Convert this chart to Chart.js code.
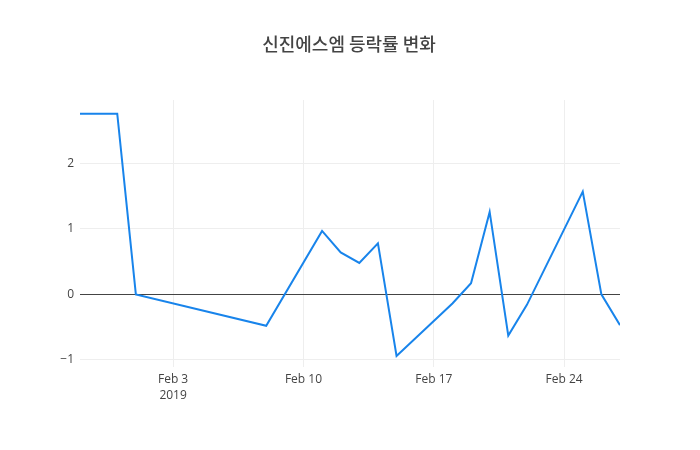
<!DOCTYPE html>
<html><head><meta charset="utf-8">
<script src="https://cdn.jsdelivr.net/npm/chart.js@4"></script>
<style>html,body{margin:0;padding:0;background:#fff}#wrap{width:700px;height:450px}</style>
</head><body><div id="wrap"><canvas id="c" width="700" height="450"></canvas></div>
<script>
const title = "신진에스엠 등락률 변화";
const dates = ["2019-01-29","2019-01-31","2019-02-01","2019-02-08","2019-02-11","2019-02-12","2019-02-13","2019-02-14","2019-02-15","2019-02-18","2019-02-19","2019-02-20","2019-02-21","2019-02-22","2019-02-25","2019-02-26","2019-02-27"];
const values = [2.76,2.76,0,-0.48,0.97,0.64,0.48,0.78,-0.94,-0.14,0.17,1.26,-0.63,-0.16,1.57,0,-0.47];
const tickDates = ["2019-02-03","2019-02-10","2019-02-17","2019-02-24"];
const tickLabels = [["Feb 3","2019"],["Feb 10"],["Feb 17"],["Feb 24"]];
const yTicks = [-1,0,1,2];

const DAY = 86400000;
const t0 = Date.parse(dates[0]);
const toDay = d => (Date.parse(d) - t0) / DAY;
const pts = dates.map((d,i)=>({x:toDay(d), y:values[i]}));
const tickPos = tickDates.map(toDay);

const titlePlugin = {
  id:'ttl',
  afterDraw(chart){
    const ctx = chart.ctx;
    ctx.save();
    ctx.font = '500 18px "Noto Sans CJK KR", "Open Sans", sans-serif';
    ctx.fillStyle = '#444';
    ctx.textAlign = 'center';
    ctx.textBaseline = 'middle';
    ctx.fillText(title, 349, 44);
    ctx.restore();
  }
};

new Chart(document.getElementById('c'), {
  type:'line',
  data:{datasets:[{data:pts, borderColor:'rgb(24,132,235)', borderWidth:2, pointRadius:0, tension:0, fill:false}]},
  options:{
    responsive:false, animation:false,
    layout:{padding:{top:100,right:80,left:0,bottom:0}},
    plugins:{legend:{display:false}, tooltip:{enabled:false}},
    scales:{
      x:{type:'linear', min:0, max:toDay("2019-02-27"),
        afterBuildTicks(s){ s.ticks = tickPos.map(v=>({value:v})); },
        afterFit(s){ s.height = 83; },
        ticks:{ autoSkip:false, maxRotation:0, padding:4, color:'#444',
          font:{family:'"Open Sans", sans-serif', size:12, lineHeight:1.35},
          callback(v){ const i = tickPos.indexOf(v); return i>=0 ? tickLabels[i] : ''; } },
        grid:{color:'#eee', drawTicks:false, lineWidth:1},
        border:{display:false}
      },
      y:{min:-1.11, max:2.97,
        afterBuildTicks(s){ s.ticks = yTicks.map(v=>({value:v})); },
        afterFit(s){ s.width = 80; },
        ticks:{ padding:6, color:'#444', font:{family:'"Open Sans", sans-serif', size:12},
          callback(v){ return v<0 ? '\u2212'+Math.abs(v) : String(v); } },
        grid:{ drawTicks:false, lineWidth:1, color(c){ return c.tick && c.tick.value===0 ? '#444' : '#eee'; } },
        border:{display:false}
      }
    }
  },
  plugins:[titlePlugin]
});
</script></body></html>
